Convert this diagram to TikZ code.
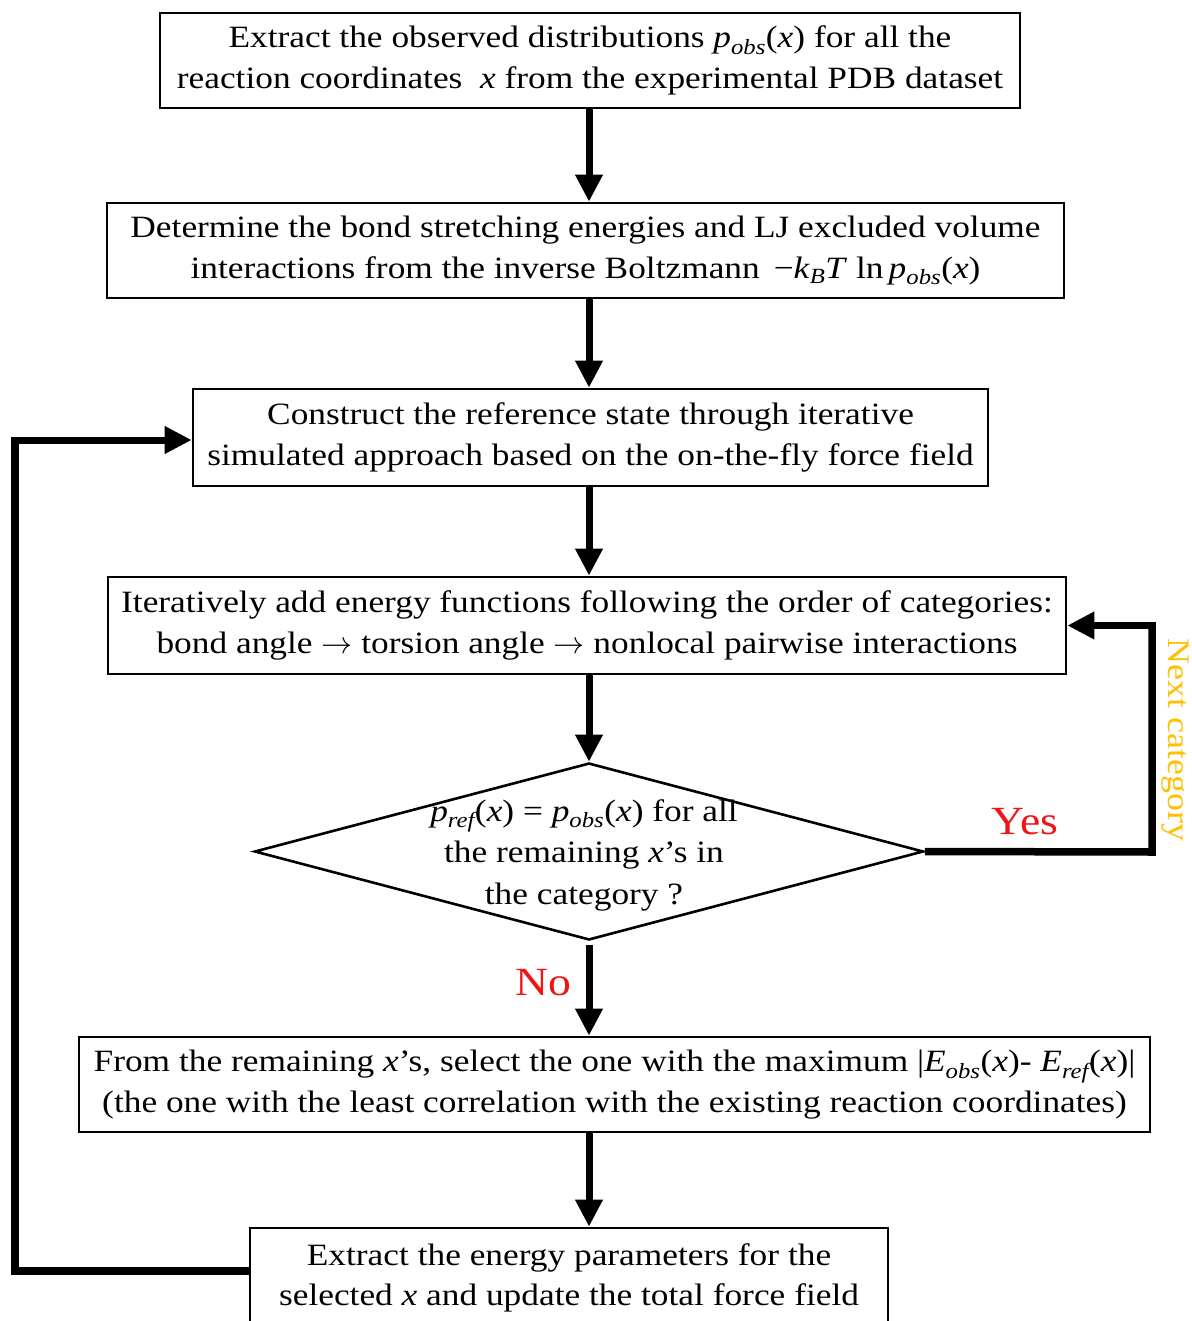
\documentclass[tikz,border=0pt]{standalone}
\usepackage{fontspec}
\setmainfont{Liberation Serif}[FakeStretch=1.14]
\usetikzlibrary{arrows.meta,shapes.geometric}
\definecolor{nextcol}{RGB}{255,192,0}
\definecolor{yescol}{RGB}{240,20,20}
\newcommand{\sbi}[1]{\textsubscript{\itshape #1}}
\newcommand{\bigarr}{\scalebox{3.1}{\normalsize$\rightarrow$}}
\begin{document}
\begin{tikzpicture}[x=1pt,y=-1pt,
  box/.style={draw, line width=2.6pt, inner sep=0pt, align=center,
    font=\fontsize{31}{40.5}\selectfont},
  flow/.style={line width=7pt, -{Triangle[length=27pt,width=26pt]}},
  loopline/.style={line width=7.5pt, line join=miter},
  lbl/.style={inner sep=0pt, font=\fontsize{40}{44}\selectfont}]
\useasboundingbox (0,0) rectangle (1191,1321);
\fill[white] (0,0) rectangle (1191,1321);

\node[box, minimum width=860pt, minimum height=95pt] (b1) at (590,60.5)
  {Extract the observed distributions \textit{p}\sbi{obs}(\textit{x}) for all the\\
   reaction coordinates \ \textit{x} from the experimental PDB dataset};
\node[box, minimum width=957pt, minimum height=95pt] (b2) at (585.5,250.5)
  {Determine the bond stretching energies and LJ excluded volume\\
   interactions from the inverse Boltzmann \,−\textit{k}\sbi{B}\textit{T} ln\,\textit{p}\sbi{obs}(\textit{x})};
\node[box, minimum width=958pt, minimum height=97pt] (b4) at (587,625.5)
  {Iteratively add energy functions following the order of categories:\\
   bond angle \bigarr{} torsion angle \bigarr{} nonlocal pairwise interactions};
\node[box, minimum width=795pt, minimum height=97pt] (b3) at (590.5,437.5)
  {Construct the reference state through iterative\\
   simulated approach based on the on-the-fly force field};
\node[draw, diamond, line width=2.6pt, inner sep=0pt, minimum width=669pt,
  minimum height=177pt] (d) at (589,851.5) {};
\node[inner sep=0pt, align=center, font=\fontsize{31}{41.5}\selectfont] (dt) at (584,855)
  {\textit{p}\sbi{ref}(\textit{x}) = \textit{p}\sbi{obs}(\textit{x}) for all\\
   the remaining \textit{x}’s in\\
   the category ?};
\node[box, minimum width=1071pt, minimum height=95pt] (b5) at (614.5,1084.5)
  {From the remaining \textit{x}’s, select the one with the maximum |\textit{E}\sbi{obs}(\textit{x})- \textit{E}\sbi{ref}(\textit{x})|\\
   (the one with the least correlation with the existing reaction coordinates)};
\node[box, minimum width=638pt, minimum height=100pt] (b6) at (569,1278)
  {Extract the energy parameters for the\\
   selected \textit{x} and update the total force field};

\draw[flow] (b1.south -| 589,0) -- (b2.north -| 589,0);
\draw[flow] (b2.south -| 589,0) -- (b3.north -| 589,0);
\draw[flow] (b3.south -| 589,0) -- (b4.north -| 589,0);
\draw[flow] (b4.south -| 589,0) -- (d.north);
\coordinate (dbot) at (589,945);
\draw[flow] (dbot) -- (b5.north -| dbot);
\draw[flow] (b5.south -| 589,0) -- (b6.north -| 589,0);

\coordinate (ycorner) at (1152,852);
\draw[loopline] (d.east) -- (ycorner) -- (ycorner |- b4.east);
\draw[flow] ([xshift=3.75pt]ycorner |- b4.east) -- (b4.east);

\coordinate (lb) at (15,1271);
\coordinate (lt) at (15,440);
\draw[loopline] ([yshift=7pt]b6.west) -- (lb) -- (lt);
\draw[flow] ([xshift=-3.75pt]lt) -- (lt -| b3.west);

\node[lbl, text=yescol] (yes) at (1025,822) {Yes};
\node[lbl, text=yescol] (no) at (543,983) {No};
\node[inner sep=0pt, rotate=-90, text=nextcol, font=\fontsize{31.5}{34}\selectfont] (nc) at (1175,740) {Next category};
\end{tikzpicture}
\end{document}
